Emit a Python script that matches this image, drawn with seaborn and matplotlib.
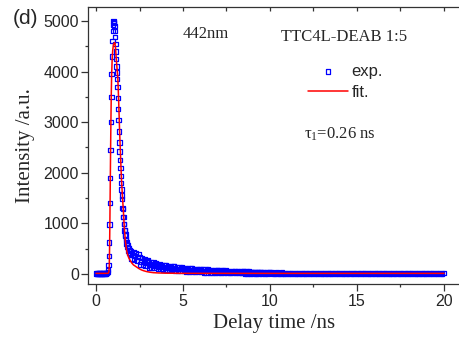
import numpy as np
import pandas as pd
import matplotlib
matplotlib.use("Agg")
import matplotlib.pyplot as plt
import seaborn as sns

t_base = [0.00, 0.04, 0.08, 0.12, 0.16, 0.20, 0.24, 0.28, 0.32, 0.36,
          0.40, 0.44, 0.48, 0.52, 0.56, 0.60, 0.64, 0.68]
i_base = [8, 12, 5, 10, 15, 6, 9, 12, 4, 11, 8, 14, 7, 10, 12, 18, 25, 40]

t_peak = [0.70, 0.72, 0.74, 0.76, 0.78, 0.80, 0.82, 0.84, 0.86, 0.88,
          0.90, 0.92, 0.94, 0.96, 0.98, 1.00, 1.02, 1.04, 1.06, 1.08,
          1.10, 1.12, 1.14, 1.16, 1.18, 1.20, 1.22, 1.24, 1.26, 1.28,
          1.30, 1.32, 1.34, 1.36, 1.38, 1.40, 1.42, 1.44, 1.46, 1.48,
          1.50, 1.52, 1.54, 1.56, 1.58, 1.60, 1.62, 1.64, 1.66, 1.68,
          1.70, 1.72, 1.74, 1.76, 1.78, 1.80, 1.83, 1.86, 1.89, 1.92,
          1.95, 1.98]
i_peak = [80, 180, 350, 620, 980, 1400, 1900, 2450, 3000, 3500,
          3950, 4300, 4600, 4800, 4920, 5000, 4980, 4960, 4900, 4800,
          4680, 4550, 4400, 4250, 4100, 3980, 3850, 3700, 3480, 3260,
          3040, 2820, 2600, 2420, 2250, 2090, 1940, 1800, 1670, 1550,
          1480, 1300, 1290, 1130, 1130, 985, 990, 860, 875, 760,
          780, 670, 690, 590, 620, 530, 560, 465, 500, 420,
          470, 400]

# 2.0 - 10.0 ns, channels every 0.05 ns
t_tail1 = np.round(np.arange(2.0, 10.001, 0.05), 2)
i_tail1 = [460, 300, 370, 440, 285, 350, 415, 270, 330, 390,
           330, 190, 250, 310, 180, 240, 295, 170, 225, 280,
           250, 130, 185, 240, 125, 175, 225, 120, 165, 210,
           200, 100, 148, 190, 95, 140, 182, 92, 135, 175,
           170, 80, 122, 162, 78, 118, 155, 75, 112, 150,
           145, 65, 104, 140, 62, 100, 135, 60, 96, 128,
           123, 53, 87, 118, 50, 84, 114, 48, 81, 111,
           108, 44, 75, 104, 42, 72, 100, 40, 70, 97,
           95, 35, 64, 92, 33, 62, 88, 31, 60, 85,
           83, 29, 55, 80, 27, 53, 77, 26, 51, 74,
           73, 23, 47, 70, 22, 46, 68, 21, 44, 65,
           63, 19, 41, 61, 18, 40, 59, 17, 38, 57,
           56, 16, 36, 54, 15, 34, 52, 14, 33, 50,
           49, 13, 31, 47, 12, 30, 46, 12, 29, 45,
           43, 13, 28, 42, 12, 27, 40, 11, 26, 39,
           38, 10, 24, 36, 9, 23, 35, 9, 22, 33,
           32]

# 10.1 - 20.0 ns, channels every 0.1 ns
t_tail2 = np.round(np.arange(10.1, 20.001, 0.1), 1)
i_tail2 = [28, -4, 12, 27, -5, 11, 26, -5, 10, 25,
           -5, 10, 25, -6, 9, 24, -6, 9, 24, -6,
           9, 23, -6, 9, 23, -6, 9, 23, -6, 9,
           23, -6, 9, 22, -6, 8, 22, -6, 8, 22,
           -6, 8, 22, -6, 8, 22, -6, 8, 22, -6,
           8, 22, -6, 8, 22, -6, 8, 22, -6, 8,
           22, -6, 8, 22, -6, 8, 22, -6, 8, 22,
           -6, 8, 22, -6, 8, 22, -6, 8, 22, -6,
           8, 22, -6, 8, 22, -6, 8, 22, -6, 8,
           22, -6, 8, 22, -6, 8, 22, -6, 8, 22]

# fitted curve
t_fit = [0.0, 0.5, 0.70, 0.74, 0.76, 0.78, 0.80, 0.82, 0.84, 0.86,
         0.88, 0.90, 0.93, 0.96, 1.00, 1.04, 1.08, 1.12, 1.16, 1.20,
         1.25, 1.30, 1.34, 1.38, 1.42, 1.46, 1.50, 1.54, 1.57, 1.60,
         1.64, 1.70, 1.75, 1.80, 1.88, 1.95, 2.05, 2.15, 2.30, 2.45,
         2.60, 2.72, 2.90, 3.10, 3.30, 3.60, 4.0, 5.0, 10.0, 20.0]
i_fit = [12, 12, 14, 40, 150, 500, 1100, 1800, 2500, 3100,
         3600, 3950, 4250, 4420, 4530, 4560, 4575, 4480, 4280, 4100,
         3900, 3450, 3000, 2600, 2250, 1900, 1650, 1420, 1270, 1080,
         860, 614, 480, 400, 320, 277, 220, 180, 145, 110,
         82, 66, 48, 35, 26, 20, 16, 13, 12, 12]

exp_df = pd.DataFrame({
    "t": list(t_base) + list(t_peak) + list(t_tail1) + list(t_tail2),
    "I": list(i_base) + list(i_peak) + list(i_tail1) + list(i_tail2),
})
fit_df = pd.DataFrame({"t": t_fit, "I": i_fit})

sns.set_style("ticks")
plt.rcParams["font.family"] = ["Liberation Sans", "DejaVu Sans"]
plt.rcParams["mathtext.fontset"] = "custom"
plt.rcParams["mathtext.rm"] = "Liberation Serif"
plt.rcParams["mathtext.it"] = "Liberation Serif"
serif = ["Liberation Serif", "DejaVu Serif"]

W, H = 460, 347
fig = plt.figure(figsize=(4.6, 3.47), dpi=100)
ax = fig.add_axes([88 / W, 1 - 284 / H, (W - 88) / W, (284 - 7) / H])

sns.scatterplot(data=exp_df, x="t", y="I", ax=ax, marker="s", s=10,
                label="exp.", zorder=2)
pts = ax.collections[-1]
pts.set_facecolor("none")
pts.set_edgecolor("blue")
pts.set_linewidth(0.9)

sns.lineplot(data=fit_df, x="t", y="I", ax=ax, color="red", lw=1.1,
             label="fit.", zorder=3)

ax.set_xlim(-0.46, 20.92)
ax.set_ylim(-198, 5277)
ax.set_xticks([0, 5, 10, 15, 20])
ax.set_xticks(np.arange(0, 21, 2.5), minor=True)
ax.set_yticks([0, 1000, 2000, 3000, 4000, 5000])
ax.set_yticks(np.arange(0, 5001, 500), minor=True)

for s in ["left", "bottom", "top"]:
    ax.spines[s].set_color("#333333")
    ax.spines[s].set_linewidth(0.9)
ax.spines["right"].set_visible(False)

ax.tick_params(which="major", length=5, width=0.9, color="#333333",
               labelsize=11.5, pad=1.5)
ax.tick_params(which="minor", length=2.5, width=0.9, color="#333333")
ax.tick_params(axis="x", which="major", pad=2.5)

top = ax.secondary_xaxis("top")
top.set_xticks([0, 5, 10, 15, 20])
top.set_xticks(np.arange(0, 21, 2.5), minor=True)
top.tick_params(which="both", direction="in", length=3, width=0.9,
                color="#333333", labeltop=False)
top.spines["top"].set_visible(False)

ax.set_xlabel("Delay time /ns", family=serif, fontsize=15, labelpad=3)
ax.set_ylabel("Intensity /a.u.", family=serif, fontsize=15, labelpad=6)

ax.legend(loc="upper left", bbox_to_anchor=(308 / W, 1 - 64 / H),
          bbox_transform=fig.transFigure, frameon=False, fontsize=12,
          borderpad=0, borderaxespad=0, handlelength=2.4,
          handletextpad=0.2, labelspacing=0.35)

fig.text(26 / W, 1 - 18 / H, "(d)", fontsize=15, ha="center", va="center")
fig.text(206 / W, 1 - 34 / H, "442nm", family=serif, fontsize=12,
         ha="center", va="center")
fig.text(344 / W, 1 - 37 / H, "TTC4L-DEAB 1:5", family=serif, fontsize=12,
         ha="center", va="center")
fig.text(340 / W, 1 - 134 / H, r"$\tau_1$=0.26 ns", family=serif,
         fontsize=12, ha="center", va="center")

fig.savefig("out.png", dpi=100)
